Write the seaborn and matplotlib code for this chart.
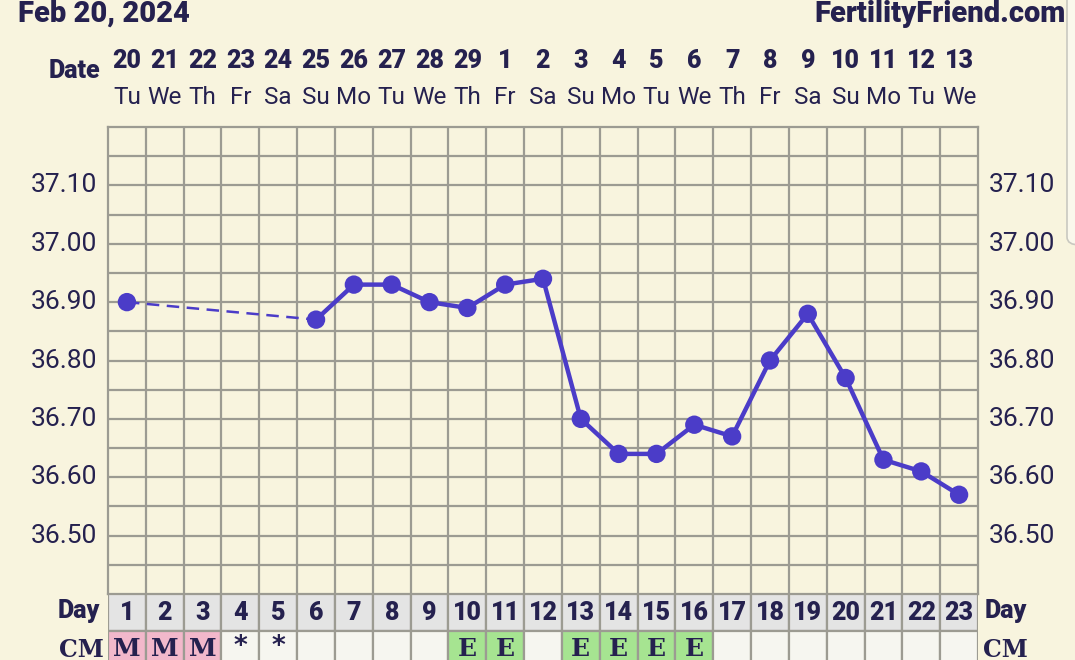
import numpy as np
import pandas as pd
import matplotlib
matplotlib.use("Agg")
import matplotlib.pyplot as plt
import matplotlib.transforms as mtransforms
from matplotlib.patches import FancyBboxPatch
import seaborn as sns

# chart data
cycle_days = list(range(1, 24))
dates = ["20", "21", "22", "23", "24", "25", "26", "27", "28", "29", "1", "2",
         "3", "4", "5", "6", "7", "8", "9", "10", "11", "12", "13"]
weekdays = ["Tu", "We", "Th", "Fr", "Sa", "Su", "Mo", "Tu", "We", "Th", "Fr", "Sa",
            "Su", "Mo", "Tu", "We", "Th", "Fr", "Sa", "Su", "Mo", "Tu", "We"]
temps = [36.90, None, None, None, None, 36.87, 36.93, 36.93, 36.90, 36.89, 36.93, 36.94,
         36.70, 36.64, 36.64, 36.69, 36.67, 36.80, 36.88, 36.77, 36.63, 36.61, 36.57]
cm_codes = ["M", "M", "M", "*", "*", "", "", "", "", "E", "E", "",
            "E", "E", "E", "E", "", "", "", "", "", "", ""]
y_ticks = [36.50, 36.60, 36.70, 36.80, 36.90, 37.00, 37.10]

bg = "#F8F4DE"
grid_c = "#9C9B92"
line_c = "#4B3CC8"
txt = "#25214F"
cm_colors = {"M": "#F2B8CB", "E": "#A6E491", "*": "#F6F6F0", "": "#F6F6F0"}

sns.set_style("white")
plt.rcParams["font.family"] = ["Roboto", "DejaVu Sans"]

W, H = 1075, 660
fig = plt.figure(figsize=(W / 100, H / 100), dpi=100)
fig.patch.set_facecolor(bg)


def box(x0, y0, x1, y1):
    return [x0 / W, 1 - y1 / H, (x1 - x0) / W, (y1 - y0) / H]


# temperature grid
ax = fig.add_axes(box(108, 127, 978, 594))
ax.set_facecolor(bg)
ax.set_xlim(0.5, 23.5)
ax.set_ylim(36.40, 37.20)
ax.set_xticks([])
ax.set_xticks(np.arange(1.5, 23, 1), minor=True)
ax.set_yticks(y_ticks)
ax.set_yticklabels([f"{v:.2f}" for v in y_ticks])
ax.set_yticks(np.arange(36.45, 37.2, 0.1), minor=True)
ax.grid(True, which="both", color=grid_c, lw=1.6)
ax.tick_params(axis="both", which="both", length=0)
ax.tick_params(axis="y", labelsize=19, labelcolor=txt, pad=8,
               labelleft=True, labelright=True)
for s in ax.spines.values():
    s.set_color(grid_c)
    s.set_linewidth(1.6)
ax.set_axisbelow(True)
up = mtransforms.ScaledTranslation(0, 2.5 / 100, fig.dpi_scale_trans)
for t in ax.yaxis.get_major_ticks():
    t.label1.set_transform(t.label1.get_transform() + up)
    t.label2.set_transform(t.label2.get_transform() + up)

df = pd.DataFrame({"day": cycle_days, "temp": temps}).dropna()
first_gap = df[df["day"].isin([1, 6])]
solid = df[df["day"] >= 6]
sns.lineplot(data=first_gap, x="day", y="temp", ax=ax, color=line_c, lw=1.8,
             dashes=False, linestyle=(0, (5, 3)))
sns.lineplot(data=solid, x="day", y="temp", ax=ax, color=line_c, lw=3.2)
sns.scatterplot(data=df, x="day", y="temp", ax=ax, color=line_c, s=175,
                edgecolor="none", zorder=5)
ax.set_xlabel("")
ax.set_ylabel("")

# header rows
tr = mtransforms.blended_transform_factory(ax.transData, fig.transFigure)
for d, dt, wd in zip(cycle_days, dates, weekdays):
    ax.text(d, 1 - 68 / H, dt, transform=tr, ha="center", va="baseline",
            fontsize=18, fontweight="black", color=txt)
    ax.text(d, 1 - 104 / H, wd, transform=tr, ha="center", va="baseline",
            fontsize=17.5, color=txt)
fig.text(100 / W, 1 - 78 / H, "Date", ha="right", va="baseline",
         fontsize=18, fontweight="black", color=txt)
fig.text(18 / W, 1 - 22 / H, "Feb 20, 2024", ha="left", va="baseline",
         fontsize=21, fontweight="black", color=txt)
fig.text(1066 / W, 1 - 22 / H, "FertilityFriend.com", ha="right", va="baseline",
         fontsize=21, fontweight="black", color=txt)

# day / CM strip
ax2 = fig.add_axes(box(108, 594, 978, 660))
ax2.set_xlim(0.5, 23.5)
ax2.set_ylim(66 / 37, 0)
ax2.axis("off")
ax2.bar(cycle_days, 1, bottom=0, width=1, color="#E4E4E4", edgecolor=grid_c, lw=1.6)
ax2.bar(cycle_days, 1, bottom=1, width=1, color=[cm_colors[c] for c in cm_codes],
        edgecolor=grid_c, lw=1.6)
for d, c in zip(cycle_days, cm_codes):
    ax2.text(d, 0.52, str(d), ha="center", va="center", fontsize=18,
             fontweight="black", color=txt)
    if c == "*":
        ax2.text(d, 1.42, c, ha="center", va="center", fontsize=19,
                 fontweight="bold", color=txt, family="DejaVu Sans")
    elif c:
        ax2.text(d, 1.5, c, ha="center", va="center", fontsize=18,
                 fontweight="bold", color=txt, family="DejaVu Serif")

fig.text(100 / W, 1 - 618 / H, "Day", ha="right", va="baseline",
         fontsize=18, fontweight="black", color=txt)
fig.text(985 / W, 1 - 618 / H, "Day", ha="left", va="baseline",
         fontsize=18, fontweight="black", color=txt)
fig.text(104 / W, 1 - 657 / H, "CM", ha="right", va="baseline",
         fontsize=17, fontweight="bold", color=txt, family="DejaVu Serif")
fig.text(983 / W, 1 - 657 / H, "CM", ha="left", va="baseline",
         fontsize=17, fontweight="bold", color=txt, family="DejaVu Serif")

# screenshot edge at the right
fig.patches.append(FancyBboxPatch((1067 / W, 1 - 245 / H), 0.05, 0.5,
                                  boxstyle="round,pad=0,rounding_size=0.012",
                                  transform=fig.transFigure, facecolor="#FAF8EC",
                                  edgecolor="#C9C8C0", lw=1.2))

fig.savefig("out.png", dpi=100, facecolor=bg)
